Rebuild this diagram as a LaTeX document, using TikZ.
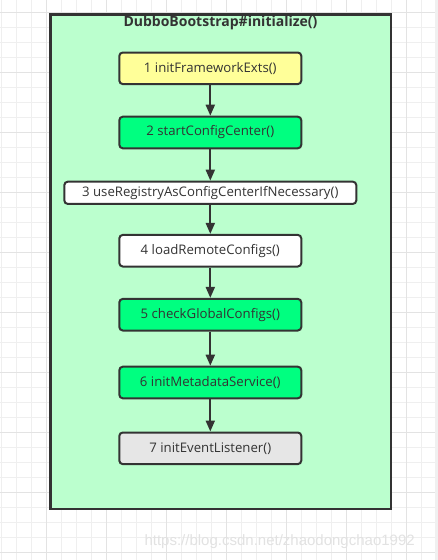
\documentclass[tikz,border=0pt]{standalone}
\usepackage{fontspec}
\setmainfont{Open Sans}
\newfontfamily\wmfont{Liberation Sans}
\usetikzlibrary{arrows.meta}
\definecolor{linec}{HTML}{333333}
\definecolor{textc}{HTML}{333333}
\definecolor{gridminor}{HTML}{EFEFEF}
\definecolor{gridmajor}{HTML}{E3E3E3}
\definecolor{stripc}{HTML}{F0F0F0}
\definecolor{framefill}{HTML}{BBFFCE}
\definecolor{yellowc}{HTML}{FFFF99}
\definecolor{greenc}{HTML}{00FF80}
\definecolor{greyc}{HTML}{E6E6E6}
\definecolor{wmc}{HTML}{E2E2E2}
\begin{document}
\begin{tikzpicture}[x=1pt,y=-1pt,
  container/.style={draw=linec, line width=2.4pt, fill=framefill, minimum width=340.5pt, minimum height=494.5pt, inner sep=0pt},
  stepbox/.style={draw=linec, line width=2pt, rounded corners=3.5pt, minimum width=182pt, minimum height=31.6pt, inner sep=0pt, font=\fontsize{13.2}{15}\selectfont, text=textc},
  flow/.style={draw=linec, line width=2pt, -{Triangle[length=11pt,width=9pt]}}]
\useasboundingbox (0,0) rectangle (438,560);
\fill[white] (0,0) rectangle (438,560);
\foreach \x in {1.7,16.7,...,438} \draw[gridminor, line width=0.8pt] (\x,0) -- (\x,560);
\foreach \y in {12.3,27.3,...,560} \draw[gridminor, line width=0.8pt] (0,\y) -- (438,\y);
\foreach \x in {46.7,106.7,...,438} \draw[gridmajor, line width=0.8pt] (\x,0) -- (\x,560);
\foreach \y in {12.3,72.3,...,560} \draw[gridmajor, line width=0.8pt] (0,\y) -- (438,\y);
\fill[stripc] (435,0) rectangle (438,560);
\node[text=wmc, font=\wmfont\fontsize{15}{18}\selectfont, anchor=west] (wm) at (141,542) {https://blog.csdn.net/zhaodongchao1992};
\node[container] (frame) at (220.6,261.6) {};
\node[text=textc, font=\fontsize{14}{16}\selectfont\bfseries] (title) at (220.5,22.5) {DubboBootstrap\#initialize()};
\node[stepbox, fill=yellowc] (b1) at (210.3,68.3) {1 initFrameworkExts()};
\node[stepbox, fill=greenc] (b2) at (210.3,132.5) {2 startConfigCenter()};
\node[stepbox, fill=white, minimum width=292pt, minimum height=22.3pt] (b3) at (210.3,192.8) {3 useRegistryAsConfigCenterIfNecessary()};
\node[stepbox, fill=white] (b4) at (210.3,250.7) {4 loadRemoteConfigs()};
\node[stepbox, fill=greenc] (b5) at (210.3,314.7) {5 checkGlobalConfigs()};
\node[stepbox, fill=greenc] (b6) at (210.3,382.5) {6 initMetadataService()};
\node[stepbox, fill=greyc] (b7) at (210.3,448.3) {7 initEventListener()};
\draw[flow] (b1) -- (b2);
\draw[flow] (b2) -- (b3);
\draw[flow] (b3) -- (b4);
\draw[flow] (b4) -- (b5);
\draw[flow] (b5) -- (b6);
\draw[flow] (b6) -- (b7);
\end{tikzpicture}
\end{document}
